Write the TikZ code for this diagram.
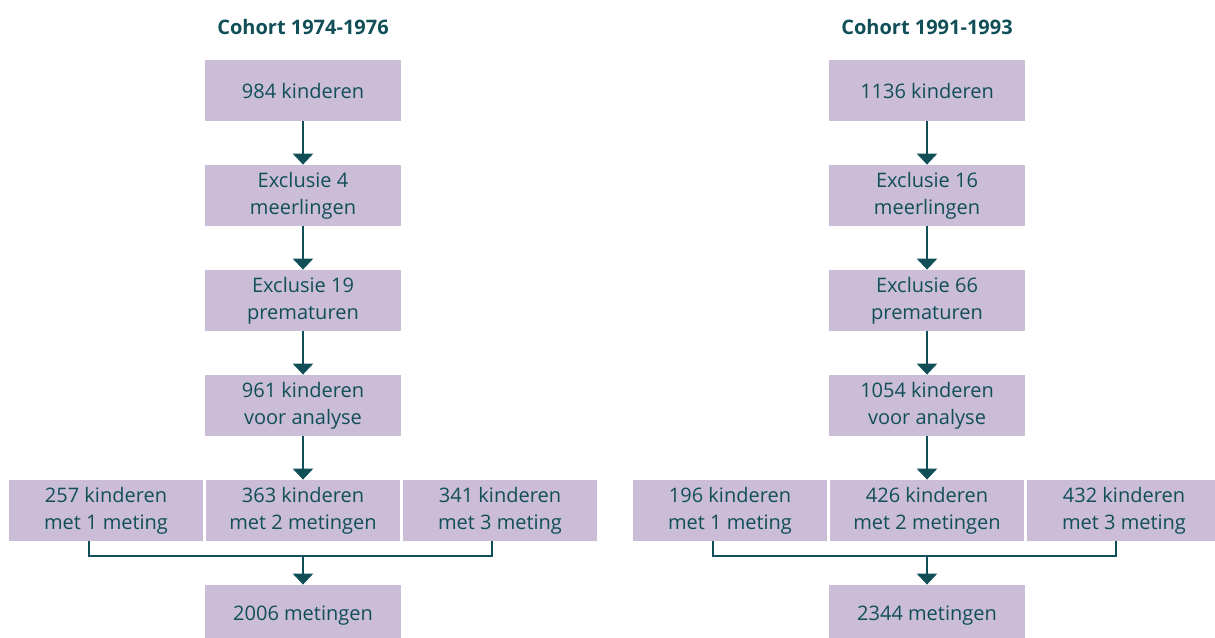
\documentclass[tikz,border=0pt]{standalone}
\usepackage{fontspec}
\setmainfont{Open Sans}
\usetikzlibrary{positioning, arrows.meta}
\definecolor{lila}{RGB}{203,188,216}
\definecolor{petrol}{RGB}{17,79,88}

\begin{document}
\begin{tikzpicture}[x=0.5pt,y=-0.5pt,
  box/.style={rectangle,fill=lila,text=petrol,minimum width=98pt,minimum height=30.5pt,
    inner sep=0pt,align=center,font=\fontsize{10}{13.5}\selectfont},
  small/.style={box,minimum width=97pt},
  title/.style={text=petrol,font=\bfseries\fontsize{10}{12}\selectfont},
  arr/.style={draw=petrol,line width=1.25pt,-{Triangle[width=10pt,length=5.5pt]}},
  conn/.style={draw=petrol,line width=1.25pt}]
  \useasboundingbox (0,0) rectangle (1215,637);

  \foreach \col/\cx/\yrs/\all/\twin/\prem/\ana/\ka/\kb/\kc/\tot in
    {L/303/1974-1976/984/4/19/961/257/363/341/2006,
     R/927/1991-1993/1136/16/66/1054/196/426/432/2344}
    {\node [title] (\col t) at (\cx,27) {Cohort \yrs};
     \node [box] (\col1) at (\cx,90.5)  {\all\ kinderen};
     \node [box] (\col2) at (\cx,195.5) {Exclusie \twin\\meerlingen};
     \node [box] (\col3) at (\cx,300.5) {Exclusie \prem\\prematuren};
     \node [box] (\col4) at (\cx,405.5) {\ana\ kinderen\\voor analyse};
     \node [small] (\col a) at (\cx-197,510.5) {\ka\ kinderen\\met 1 meting};
     \node [small] (\col b) at (\cx,510.5)     {\kb\ kinderen\\met 2 metingen};
     \node [small] (\col c) at (\cx+197,510.5) {\kc\ kinderen\\met 3 meting};
     \node [box] (\col6) at (\cx,615.5) {\tot\ metingen};
     \coordinate (\col j) at (\cx,556);

     \draw [arr] (\col1) -- (\col2);
     \draw [arr] (\col2) -- (\col3);
     \draw [arr] (\col3) -- (\col4);
     \draw [arr] (\col4) -- (\col b);
     \draw [conn] ([xshift=-8.5pt]\col a.south) |- (\col j) -| ([xshift=-4pt]\col c.south);
     \draw [arr] (\col j) -- (\col6);}
\end{tikzpicture}
\end{document}
